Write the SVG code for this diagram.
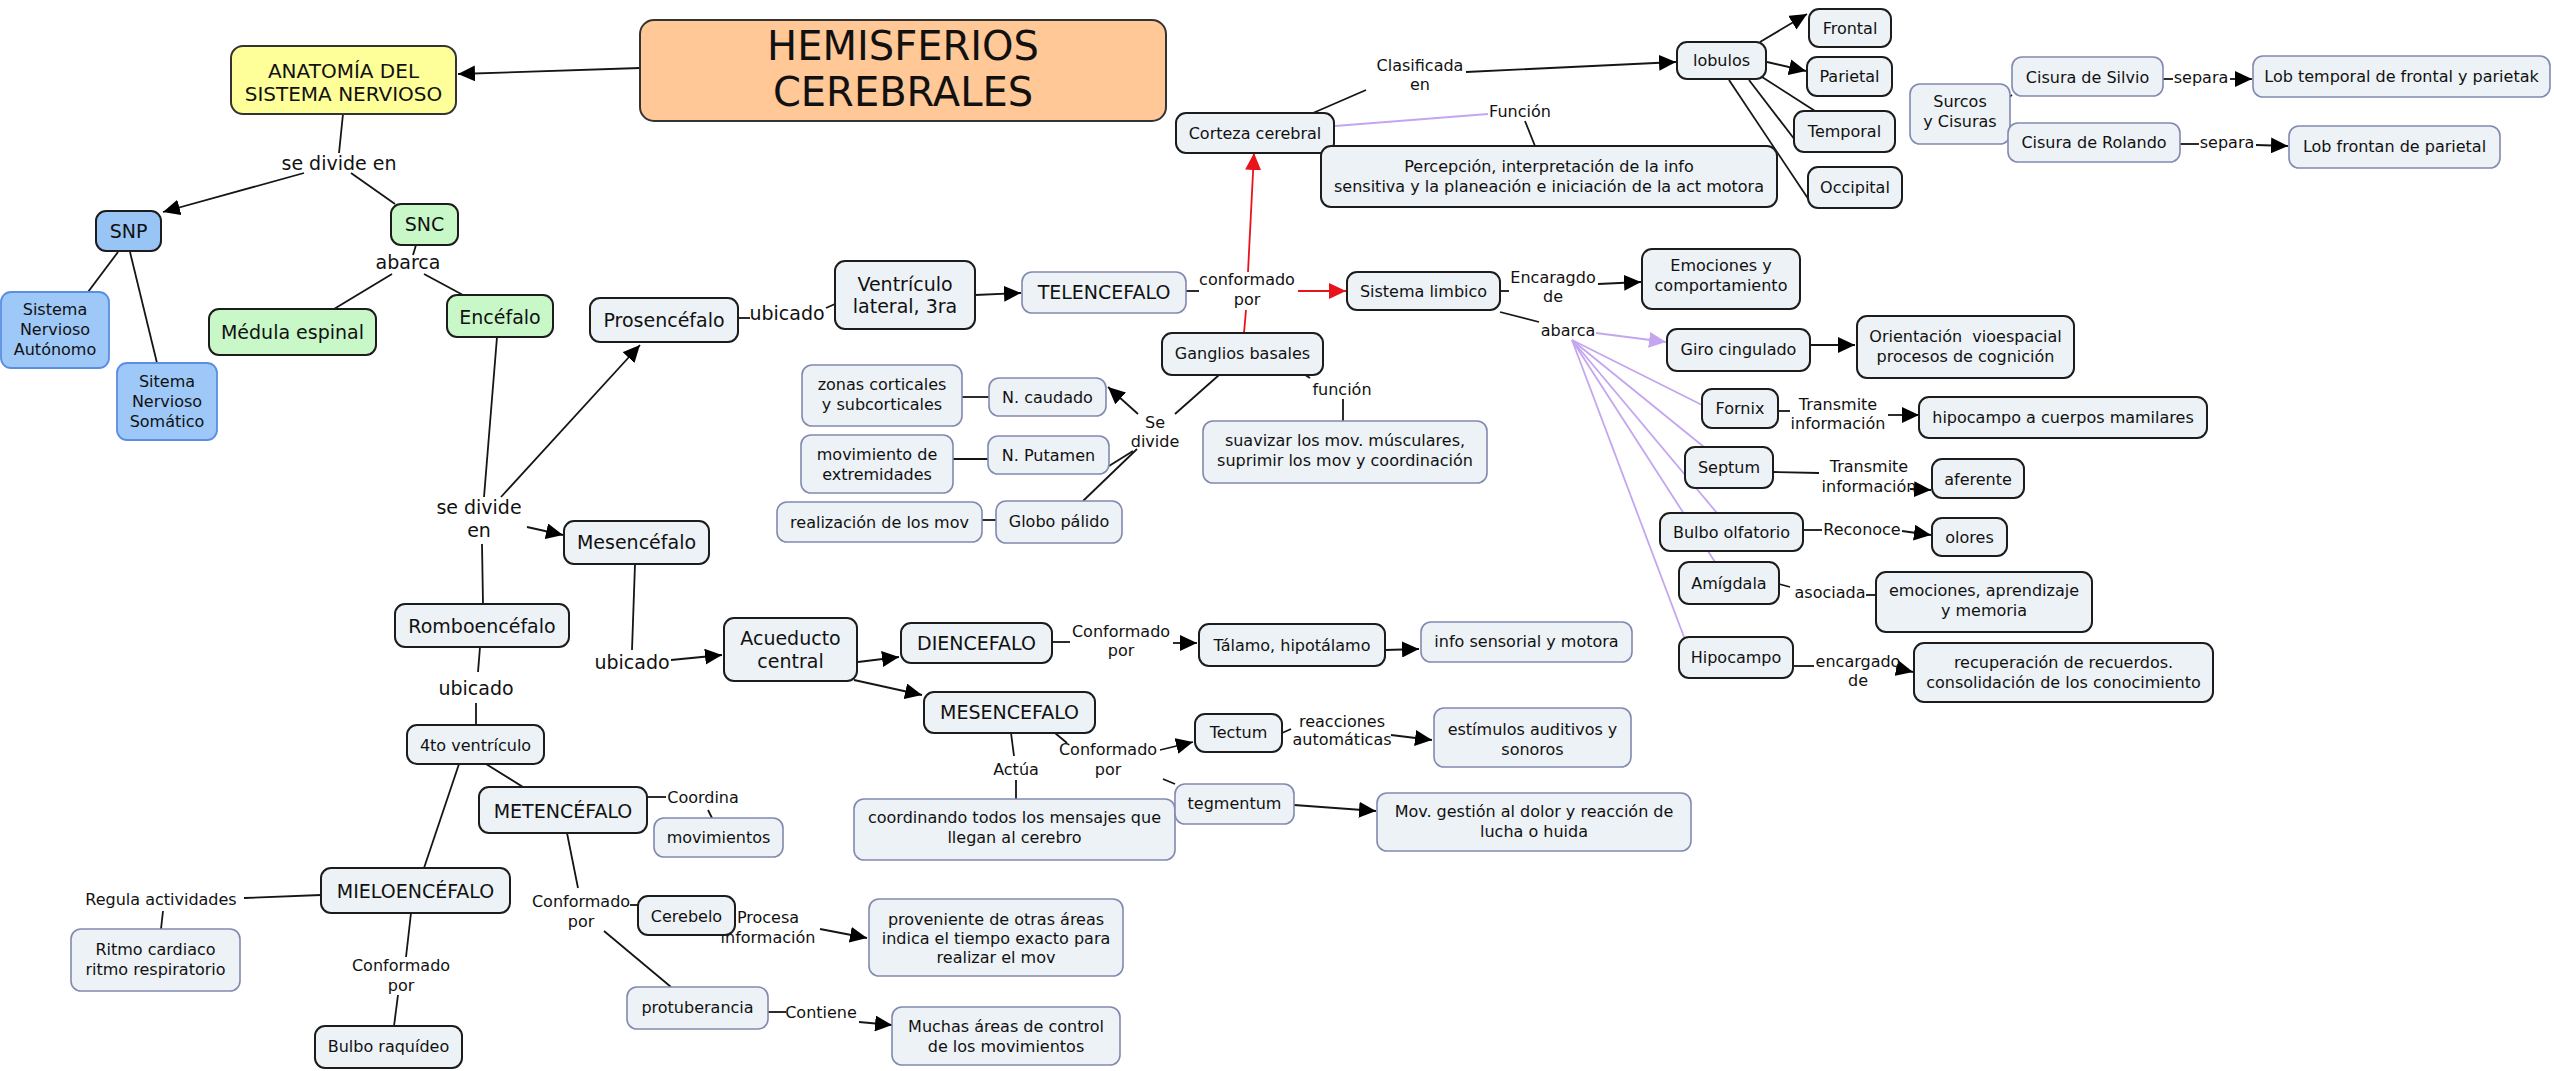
<svg xmlns="http://www.w3.org/2000/svg" width="2554" height="1071" viewBox="0 0 2554 1071">
<defs>
<style>
text{font-family:"DejaVu Sans",Verdana,"Liberation Sans",sans-serif;fill:#111;text-anchor:middle}
.n{fill:#edf2f6;stroke:#1c1c1c;stroke-width:2}
.b{fill:#edf2f6;stroke:#8289b0;stroke-width:1.6}
.f16{font-size:16px}
.f19{font-size:19px}
.f20{font-size:20px}
.c line,.c polyline{stroke:#151515;stroke-width:1.8;fill:none}
.c .r{stroke:#e8141c}
.c .p{stroke:#c4a6f0}
</style>
<marker id="a" viewBox="0 0 17 16" refX="17" refY="8" markerWidth="17" markerHeight="16" markerUnits="userSpaceOnUse" orient="auto"><path d="M0,0 L17,8 L0,16 z" fill="#000"/></marker>
<marker id="ar" viewBox="0 0 17 16" refX="17" refY="8" markerWidth="17" markerHeight="16" markerUnits="userSpaceOnUse" orient="auto"><path d="M0,0 L17,8 L0,16 z" fill="#e8141c"/></marker>
<marker id="ap" viewBox="0 0 17 16" refX="17" refY="8" markerWidth="17" markerHeight="16" markerUnits="userSpaceOnUse" orient="auto"><path d="M0,0 L17,8 L0,16 z" fill="#c4a6f0"/></marker>
</defs>
<rect width="2554" height="1071" fill="#fff"/>

<g class="c" id="connectors">
<line x1="640" y1="68" x2="458" y2="74" marker-end="url(#a)"/>
<line x1="343" y1="114" x2="339" y2="153"/>
<line x1="304" y1="173" x2="163" y2="212" marker-end="url(#a)"/>
<line x1="351" y1="173" x2="395" y2="204"/>
<line x1="416" y1="245" x2="413" y2="255"/>
<line x1="392" y1="274" x2="334" y2="309"/>
<line x1="424" y1="274" x2="463" y2="295"/>
<line x1="118" y1="252" x2="88" y2="292"/>
<line x1="130" y1="252" x2="157" y2="363"/>
<line x1="497" y1="337" x2="484" y2="497"/>
<line x1="501" y1="497" x2="640" y2="345" marker-end="url(#a)"/>
<line x1="527" y1="527" x2="563" y2="535" marker-end="url(#a)"/>
<line x1="482" y1="544" x2="483" y2="604"/>
<line x1="738" y1="318" x2="750" y2="318"/>
<line x1="826" y1="308" x2="835" y2="304"/>
<line x1="975" y1="295" x2="1021" y2="293" marker-end="url(#a)"/>
<line x1="1186" y1="291" x2="1199" y2="291"/>
<line class="r" x1="1248" y1="272" x2="1254" y2="153" marker-end="url(#ar)"/>
<line class="r" x1="1246" y1="310" x2="1244" y2="333"/>
<line class="r" x1="1298" y1="291" x2="1346" y2="291" marker-end="url(#ar)"/>
<line x1="1313" y1="113" x2="1366" y2="90"/>
<line x1="1466" y1="72" x2="1676" y2="62" marker-end="url(#a)"/>
<line x1="1760" y1="42" x2="1807" y2="14" marker-end="url(#a)"/>
<line x1="1767" y1="62" x2="1806" y2="71" marker-end="url(#a)"/>
<line x1="1762" y1="77" x2="1815" y2="111"/>
<line x1="1749" y1="80" x2="1795" y2="140"/>
<line x1="1729" y1="80" x2="1809" y2="200"/>
<line class="p" x1="1335" y1="126" x2="1488" y2="114"/>
<line x1="1525" y1="121" x2="1535" y2="146"/>
<line x1="2163" y1="79" x2="2173" y2="79"/>
<line x1="2230" y1="79" x2="2252" y2="79" marker-end="url(#a)"/>
<line x1="2009" y1="97" x2="2012" y2="95"/>
<line x1="2180" y1="144" x2="2199" y2="144"/>
<line x1="2256" y1="145" x2="2288" y2="146" marker-end="url(#a)"/>
<line x1="1500" y1="291" x2="1509" y2="291"/>
<line x1="1598" y1="284" x2="1641" y2="282" marker-end="url(#a)"/>
<line x1="1500" y1="312" x2="1539" y2="322"/>
<line class="p" x1="1596" y1="333" x2="1666" y2="342" marker-end="url(#ap)"/>
<line class="p" x1="1572" y1="340" x2="1702" y2="405"/>
<line class="p" x1="1572" y1="340" x2="1704" y2="447"/>
<line class="p" x1="1572" y1="340" x2="1717" y2="513"/>
<line class="p" x1="1572" y1="340" x2="1715" y2="562"/>
<line class="p" x1="1572" y1="340" x2="1684" y2="637"/>
<line x1="1810" y1="345" x2="1855" y2="345" marker-end="url(#a)"/>
<line x1="1778" y1="411" x2="1790" y2="411"/>
<line x1="1888" y1="415" x2="1919" y2="415" marker-end="url(#a)"/>
<line x1="1773" y1="472" x2="1819" y2="473"/>
<line x1="1910" y1="489" x2="1931" y2="490" marker-end="url(#a)"/>
<line x1="1803" y1="530" x2="1822" y2="530"/>
<line x1="1902" y1="531" x2="1931" y2="535" marker-end="url(#a)"/>
<line x1="1779" y1="584" x2="1790" y2="587"/>
<line x1="1866" y1="595" x2="1876" y2="595"/>
<line x1="1793" y1="666" x2="1814" y2="666"/>
<line x1="1896" y1="668" x2="1913" y2="672" marker-end="url(#a)"/>
<line x1="1219" y1="375" x2="1175" y2="414"/>
<line x1="1138" y1="414" x2="1108" y2="387" marker-end="url(#a)"/>
<line x1="1133" y1="451" x2="1109" y2="466"/>
<line x1="1137" y1="449" x2="1083" y2="501"/>
<line x1="962" y1="397" x2="989" y2="397"/>
<line x1="953" y1="459" x2="988" y2="459"/>
<line x1="982" y1="520" x2="996" y2="520"/>
<line x1="1302" y1="373" x2="1310" y2="378"/>
<line x1="1343" y1="399" x2="1343" y2="421"/>
<line x1="635" y1="564" x2="632" y2="650"/>
<line x1="671" y1="660" x2="722" y2="655" marker-end="url(#a)"/>
<line x1="858" y1="662" x2="899" y2="657" marker-end="url(#a)"/>
<line x1="854" y1="680" x2="922" y2="695" marker-end="url(#a)"/>
<line x1="1053" y1="642" x2="1070" y2="642"/>
<line x1="1173" y1="643" x2="1197" y2="643" marker-end="url(#a)"/>
<line x1="1385" y1="650" x2="1419" y2="649" marker-end="url(#a)"/>
<line x1="1011" y1="733" x2="1014" y2="756"/>
<line x1="1016" y1="780" x2="1016" y2="799"/>
<line x1="1055" y1="733" x2="1067" y2="743"/>
<line x1="1160" y1="750" x2="1193" y2="742" marker-end="url(#a)"/>
<line x1="1163" y1="779" x2="1175" y2="784"/>
<line x1="1282" y1="733" x2="1291" y2="729"/>
<line x1="1391" y1="735" x2="1432" y2="740" marker-end="url(#a)"/>
<line x1="1294" y1="805" x2="1376" y2="811" marker-end="url(#a)"/>
<line x1="480" y1="647" x2="478" y2="672"/>
<line x1="476" y1="703" x2="476" y2="725"/>
<line x1="486" y1="764" x2="523" y2="787"/>
<line x1="459" y1="764" x2="424" y2="868"/>
<line x1="647" y1="797" x2="666" y2="797"/>
<line x1="708" y1="810" x2="712" y2="818"/>
<line x1="244" y1="898" x2="321" y2="895"/>
<line x1="163" y1="911" x2="161" y2="929"/>
<line x1="411" y1="913" x2="406" y2="957"/>
<line x1="398" y1="995" x2="394" y2="1026"/>
<line x1="567" y1="833" x2="578" y2="888"/>
<line x1="630" y1="905" x2="638" y2="905"/>
<line x1="604" y1="931" x2="671" y2="987"/>
<line x1="820" y1="929" x2="867" y2="938" marker-end="url(#a)"/>
<line x1="768" y1="1012" x2="786" y2="1012"/>
<line x1="859" y1="1022" x2="892" y2="1025" marker-end="url(#a)"/>
</g>

<g id="labels" class="f16">
<text class="f19" x="339" y="170">se divide en</text>
<text class="f19" x="408" y="269">abarca</text>
<text class="f19" x="787" y="320">ubicado</text>
<text class="f19" x="479" y="514">se divide<tspan x="479" y="537">en</tspan></text>
<text class="f19" x="476" y="695">ubicado</text>
<text class="f19" x="632" y="669">ubicado</text>
<text x="1247" y="285">conformado<tspan x="1247" y="305">por</tspan></text>
<text x="1420" y="71">Clasificada<tspan x="1420" y="90">en</tspan></text>
<text x="1520" y="117">Función</text>
<text x="1553" y="283">Encaragdo<tspan x="1553" y="302">de</tspan></text>
<text x="1568" y="336">abarca</text>
<text x="1838" y="410">Transmite<tspan x="1838" y="429">información</tspan></text>
<text x="1869" y="472">Transmite<tspan x="1869" y="492">información</tspan></text>
<text x="1862" y="535">Reconoce</text>
<text x="1830" y="598">asociada</text>
<text x="1858" y="667">encargado<tspan x="1858" y="686">de</tspan></text>
<text x="1342" y="395">función</text>
<text x="1155" y="428">Se<tspan x="1155" y="447">divide</tspan></text>
<text x="1121" y="637">Conformado<tspan x="1121" y="656">por</tspan></text>
<text x="1016" y="775">Actúa</text>
<text x="1108" y="755">Conformado<tspan x="1108" y="775">por</tspan></text>
<text x="1342" y="727">reacciones<tspan x="1342" y="745">automáticas</tspan></text>
<text x="2201" y="83">separa</text>
<text x="2227" y="148">separa</text>
<text x="703" y="803">Coordina</text>
<text x="161" y="905">Regula actividades</text>
<text x="401" y="971">Conformado<tspan x="401" y="991">por</tspan></text>
<text x="581" y="907">Conformado<tspan x="581" y="927">por</tspan></text>
<text x="768" y="923">Procesa<tspan x="768" y="943">información</tspan></text>
<text x="821" y="1018">Contiene</text>
</g>

<g id="hemisferios"><rect x="640" y="20" width="526" height="101" rx="14" fill="#ffc896" stroke="#333" stroke-width="2"/><text x="903" y="60" style="font-size:40px">HEMISFERIOS<tspan x="903" y="106">CEREBRALES</tspan></text></g>
<g id="anatomia"><rect x="231" y="46" width="225" height="68" rx="12" fill="#ffff99" stroke="#333" stroke-width="2"/><text class="f20" x="343.5" y="78">ANATOMÍA DEL<tspan x="343.5" y="101">SISTEMA NERVIOSO</tspan></text></g>
<g id="snp"><rect x="96" y="211" width="65" height="40" rx="10" fill="#98c5f5" stroke="#1c1c1c" stroke-width="2"/><text class="f19" x="128.5" y="238">SNP</text></g>
<g id="sna"><rect x="1" y="292" width="108" height="76" rx="10" fill="#9dc8f7" stroke="#5a8ee0" stroke-width="1.8"/><text class="f16" x="55" y="315">Sistema<tspan x="55" y="335">Nervioso</tspan><tspan x="55" y="355">Autónomo</tspan></text></g>
<g id="sns"><rect x="117" y="363" width="100" height="77" rx="10" fill="#9dc8f7" stroke="#5a8ee0" stroke-width="1.8"/><text class="f16" x="167" y="387">Sitema<tspan x="167" y="407">Nervioso</tspan><tspan x="167" y="427">Somático</tspan></text></g>
<g id="snc"><rect x="391" y="204" width="67" height="41" rx="10" fill="#c8f7c8" stroke="#1c1c1c" stroke-width="2"/><text class="f19" x="424.5" y="231">SNC</text></g>
<g id="medula"><rect x="209" y="309" width="167" height="46" rx="10" fill="#c8f7c8" stroke="#1c1c1c" stroke-width="2"/><text class="f19" x="292.5" y="339">Médula espinal</text></g>
<g id="encefalo"><rect x="447" y="295" width="106" height="42" rx="10" fill="#c8f7c8" stroke="#1c1c1c" stroke-width="2"/><text class="f19" x="500" y="324">Encéfalo</text></g>
<g id="prosencefalo"><rect class="n" x="590" y="298" width="148" height="44" rx="10"/><text class="f19" x="664" y="327">Prosencéfalo</text></g>
<g id="ventriculo"><rect class="n" x="835" y="261" width="140" height="68" rx="10"/><text class="f19" x="905" y="291">Ventrículo<tspan x="905" y="313">lateral, 3ra</tspan></text></g>
<g id="telencefalo"><rect class="b" x="1022" y="272" width="164" height="41" rx="10"/><text class="f19" x="1104" y="299">TELENCEFALO</text></g>
<g id="corteza"><rect class="n" x="1176" y="113" width="158" height="40" rx="10"/><text class="f16" x="1255" y="139">Corteza cerebral</text></g>
<g id="lobulos"><rect class="n" x="1677" y="42" width="89" height="37" rx="10"/><text class="f16" x="1721.5" y="66">lobulos</text></g>
<g id="frontal"><rect class="n" x="1809" y="9" width="82" height="38" rx="10"/><text class="f16" x="1850" y="34">Frontal</text></g>
<g id="parietal"><rect class="n" x="1807" y="57" width="85" height="39" rx="10"/><text class="f16" x="1849.5" y="82">Parietal</text></g>
<g id="temporal"><rect class="n" x="1794" y="111" width="101" height="41" rx="10"/><text class="f16" x="1844.5" y="137">Temporal</text></g>
<g id="occipital"><rect class="n" x="1808" y="167" width="94" height="41" rx="10"/><text class="f16" x="1855" y="193">Occipital</text></g>
<g id="percepcion"><rect class="n" x="1321" y="146" width="456" height="61" rx="10"/><text class="f16" x="1549" y="172">Percepción, interpretación de la info<tspan x="1549" y="192">sensitiva y la planeación e iniciación de la act motora</tspan></text></g>
<g id="surcos"><rect class="b" x="1910" y="84" width="100" height="60" rx="10"/><text class="f16" x="1960" y="107">Surcos<tspan x="1960" y="127">y Cisuras</tspan></text></g>
<g id="silvio"><rect class="b" x="2012" y="57" width="151" height="39" rx="10"/><text class="f16" x="2087.5" y="83">Cisura de Silvio</text></g>
<g id="lobtemporal"><rect class="b" x="2253" y="56" width="297" height="41" rx="10"/><text class="f16" x="2401.5" y="82">Lob temporal de frontal y parietak</text></g>
<g id="rolando"><rect class="b" x="2008" y="123" width="172" height="39" rx="10"/><text class="f16" x="2094" y="148">Cisura de Rolando</text></g>
<g id="lobfrontan"><rect class="b" x="2289" y="126" width="211" height="42" rx="10"/><text class="f16" x="2394.5" y="152">Lob frontan de parietal</text></g>
<g id="limbico"><rect class="n" x="1347" y="272" width="153" height="38" rx="10"/><text class="f16" x="1423.5" y="297">Sistema limbico</text></g>
<g id="emociones"><rect class="n" x="1642" y="249" width="158" height="60" rx="10"/><text class="f16" x="1721" y="271">Emociones y<tspan x="1721" y="291">comportamiento</tspan></text></g>
<g id="giro"><rect class="n" x="1667" y="329" width="143" height="42" rx="10"/><text class="f16" x="1738.5" y="355">Giro cingulado</text></g>
<g id="orientacion"><rect class="n" x="1857" y="316" width="217" height="62" rx="10"/><text class="f16" x="1965.5" y="342" style="white-space:pre">Orientación  vioespacial<tspan x="1965.5" y="362">procesos de cognición</tspan></text></g>
<g id="fornix"><rect class="n" x="1702" y="389" width="76" height="39" rx="10"/><text class="f16" x="1740" y="414">Fornix</text></g>
<g id="hipmamilares"><rect class="n" x="1919" y="397" width="288" height="41" rx="10"/><text class="f16" x="2063" y="423">hipocampo a cuerpos mamilares</text></g>
<g id="septum"><rect class="n" x="1685" y="447" width="88" height="41" rx="10"/><text class="f16" x="1729" y="473">Septum</text></g>
<g id="aferente"><rect class="n" x="1932" y="459" width="92" height="39" rx="10"/><text class="f16" x="1978" y="485">aferente</text></g>
<g id="bulboolf"><rect class="n" x="1660" y="513" width="143" height="38" rx="10"/><text class="f16" x="1731.5" y="538">Bulbo olfatorio</text></g>
<g id="olores"><rect class="n" x="1932" y="518" width="75" height="38" rx="10"/><text class="f16" x="1969.5" y="543">olores</text></g>
<g id="amigdala"><rect class="n" x="1679" y="562" width="100" height="42" rx="10"/><text class="f16" x="1729" y="589">Amígdala</text></g>
<g id="emoaprend"><rect class="n" x="1876" y="572" width="216" height="60" rx="10"/><text class="f16" x="1984" y="596">emociones, aprendizaje<tspan x="1984" y="616">y memoria</tspan></text></g>
<g id="hipocampo"><rect class="n" x="1679" y="637" width="114" height="41" rx="10"/><text class="f16" x="1736" y="663">Hipocampo</text></g>
<g id="recuperacion"><rect class="n" x="1914" y="643" width="299" height="59" rx="10"/><text class="f16" x="2063.5" y="668">recuperación de recuerdos.<tspan x="2063.5" y="688">consolidación de los conocimiento</tspan></text></g>
<g id="ganglios"><rect class="n" x="1162" y="333" width="161" height="42" rx="10"/><text class="f16" x="1242.5" y="359">Ganglios basales</text></g>
<g id="suavizar"><rect class="b" x="1203" y="421" width="284" height="62" rx="10"/><text class="f16" x="1345" y="446">suavizar los mov. músculares,<tspan x="1345" y="466">suprimir los mov y coordinación</tspan></text></g>
<g id="caudado"><rect class="b" x="989" y="378" width="117" height="38" rx="10"/><text class="f16" x="1047.5" y="403">N. caudado</text></g>
<g id="zonas"><rect class="b" x="802" y="365" width="160" height="61" rx="10"/><text class="f16" x="882" y="390">zonas corticales<tspan x="882" y="410">y subcorticales</tspan></text></g>
<g id="putamen"><rect class="b" x="988" y="436" width="121" height="38" rx="10"/><text class="f16" x="1048.5" y="461">N. Putamen</text></g>
<g id="movext"><rect class="b" x="801" y="435" width="152" height="58" rx="10"/><text class="f16" x="877" y="460">movimiento de<tspan x="877" y="480">extremidades</tspan></text></g>
<g id="globo"><rect class="b" x="996" y="501" width="126" height="42" rx="10"/><text class="f16" x="1059" y="527">Globo pálido</text></g>
<g id="realizacion"><rect class="b" x="777" y="502" width="205" height="40" rx="10"/><text class="f16" x="879.5" y="528">realización de los mov</text></g>
<g id="mesencefalo1"><rect class="n" x="564" y="521" width="145" height="43" rx="10"/><text class="f19" x="636.5" y="549">Mesencéfalo</text></g>
<g id="romboencefalo"><rect class="n" x="395" y="604" width="174" height="43" rx="10"/><text class="f19" x="482" y="633">Romboencéfalo</text></g>
<g id="cuartoventriculo"><rect class="n" x="407" y="725" width="137" height="39" rx="10"/><text class="f16" x="475.5" y="751">4to ventrículo</text></g>
<g id="metencefalo"><rect class="n" x="479" y="787" width="168" height="46" rx="10"/><text class="f19" x="563" y="818">METENCÉFALO</text></g>
<g id="movimientos"><rect class="b" x="654" y="818" width="129" height="39" rx="10"/><text class="f16" x="718.5" y="843">movimientos</text></g>
<g id="mieloencefalo"><rect class="n" x="321" y="868" width="189" height="45" rx="10"/><text class="f19" x="415.5" y="898">MIELOENCÉFALO</text></g>
<g id="ritmo"><rect class="b" x="71" y="929" width="169" height="62" rx="10"/><text class="f16" x="155.5" y="955">Ritmo cardiaco<tspan x="155.5" y="975">ritmo respiratorio</tspan></text></g>
<g id="bulboraquideo"><rect class="n" x="315" y="1026" width="147" height="42" rx="10"/><text class="f16" x="388.5" y="1052">Bulbo raquídeo</text></g>
<g id="cerebelo"><rect class="n" x="638" y="896" width="97" height="39" rx="10"/><text class="f16" x="686.5" y="922">Cerebelo</text></g>
<g id="proveniente"><rect class="b" x="869" y="899" width="254" height="77" rx="10"/><text class="f16" x="996" y="925">proveniente de otras áreas<tspan x="996" y="944">indica el tiempo exacto para</tspan><tspan x="996" y="963">realizar el mov</tspan></text></g>
<g id="protuberancia"><rect class="b" x="627" y="987" width="141" height="42" rx="10"/><text class="f16" x="697.5" y="1013">protuberancia</text></g>
<g id="muchas"><rect class="b" x="892" y="1007" width="228" height="58" rx="10"/><text class="f16" x="1006" y="1032">Muchas áreas de control<tspan x="1006" y="1052">de los movimientos</tspan></text></g>
<g id="acueducto"><rect class="n" x="724" y="618" width="133" height="63" rx="10"/><text class="f19" x="790.5" y="645">Acueducto<tspan x="790.5" y="668">central</tspan></text></g>
<g id="diencefalo"><rect class="n" x="901" y="623" width="151" height="40" rx="10"/><text class="f19" x="976.5" y="650">DIENCEFALO</text></g>
<g id="mesencefalo2"><rect class="n" x="924" y="692" width="171" height="41" rx="10"/><text class="f19" x="1009.5" y="719">MESENCEFALO</text></g>
<g id="talamo"><rect class="n" x="1199" y="624" width="186" height="42" rx="10"/><text class="f16" x="1292" y="651">Tálamo, hipotálamo</text></g>
<g id="infosensorial"><rect class="b" x="1421" y="622" width="211" height="40" rx="10"/><text class="f16" x="1526.5" y="647">info sensorial y motora</text></g>
<g id="coordinando"><rect class="b" x="854" y="799" width="321" height="61" rx="10"/><text class="f16" x="1014.5" y="823">coordinando todos los mensajes que<tspan x="1014.5" y="843">llegan al cerebro</tspan></text></g>
<g id="tectum"><rect class="n" x="1195" y="714" width="87" height="38" rx="10"/><text class="f16" x="1238.5" y="738">Tectum</text></g>
<g id="estimulos"><rect class="b" x="1434" y="708" width="197" height="59" rx="10"/><text class="f16" x="1532.5" y="735">estímulos auditivos y<tspan x="1532.5" y="755">sonoros</tspan></text></g>
<g id="tegmentum"><rect class="b" x="1175" y="784" width="119" height="40" rx="10"/><text class="f16" x="1234.5" y="809">tegmentum</text></g>
<g id="movgestion"><rect class="b" x="1377" y="793" width="314" height="58" rx="10"/><text class="f16" x="1534" y="817">Mov. gestión al dolor y reacción de<tspan x="1534" y="837">lucha o huida</tspan></text></g>
</svg>
